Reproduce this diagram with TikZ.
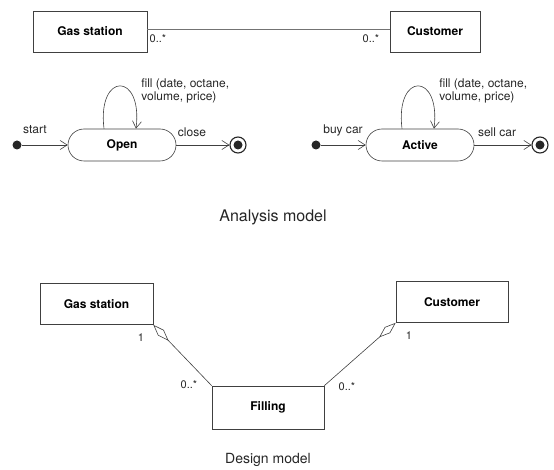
\documentclass[tikz,border=0pt]{standalone}
\usepackage{fontspec}
\setmainfont{TeX Gyre Heros}
\usetikzlibrary{arrows.meta}

\begin{document}
\begin{tikzpicture}[x=1pt,y=-1pt,line width=0.6pt,draw=black!75,
    >={Straight Barb[length=7pt,width=9pt]},
    class/.style={draw,minimum height=41pt,font=\bfseries\fontsize{12}{14}\selectfont},
    stbox/.style={draw,rounded corners=16pt,minimum width=108pt,minimum height=32pt,
      font=\bfseries\fontsize{12}{14}\selectfont},
    startdot/.style={fill=black!85,circle,inner sep=0pt,minimum size=9pt},
    enddot/.style={draw=black!85,circle,inner sep=0pt,minimum size=16pt,line width=1.1pt,
      path picture={\fill[black!85] (path picture bounding box.center) circle (4.5pt);}},
    txt/.style={font=\fontsize{12}{13}\selectfont,inner sep=1pt,text=black!85},
    mult/.style={font=\fontsize{11}{12}\selectfont,inner sep=1pt,text=black!85},
    agg/.style={{Diamond[open,length=22pt,width=8pt]}-}]
  \useasboundingbox (0,0) rectangle (554,470);

  % analysis model: classes
  \node[class,minimum width=114pt] (gas) at (90,31.5) {Gas station};
  \node[class,minimum width=90pt] (cust) at (435,31.5) {Customer};
  \draw[line width=1pt,black!55] (gas.east) ++(0,-1.5) -- ([yshift=1.5pt]cust.west);
  \node[mult] (gasm) at (158,39) {0..*};
  \node[mult] (custm) at (371,39) {0..*};

  % analysis model: gas station states
  \node[stbox] (open) at (122,145) {Open};
  \node[startdot] (start1) at (17,145) {};
  \node[enddot] (end1) at (238,145) {};
  \draw[->] (start1) -- (open);
  \draw[->] (open) -- (end1);
  \draw[->] ([xshift=-18pt]open.north) .. controls +(-7,-57) and +(7,-57) .. ([xshift=14pt]open.north);
  \node[txt] (startl) at (35,130) {start};
  \node[txt] (closel) at (192,132) {close};
  \node[txt,anchor=north west,align=left] (filll1) at (140,77) {fill (date, octane,\\volume, price)};

  % analysis model: customer states
  \node[stbox] (active) at (420,145) {Active};
  \node[startdot] (start2) at (316,145) {};
  \node[enddot] (end2) at (540,145) {};
  \draw[->] (start2) -- (active);
  \draw[->] (active) -- (end2);
  \draw[->] ([xshift=-18pt]active.north) .. controls +(-7,-57) and +(7,-57) .. ([xshift=14pt]active.north);
  \node[txt] (buyl) at (343,130) {buy car};
  \node[txt] (selll) at (497,132) {sell car};
  \node[txt,anchor=north west,align=left] (filll2) at (438,77) {fill (date, octane,\\volume, price)};

  \node[font=\fontsize{16}{19}\selectfont,text=black!85] (ana) at (273,217) {Analysis model};

  % design model
  \node[class,minimum width=113pt] (gas2) at (96.5,304) {Gas station};
  \node[class,minimum width=112pt] (cust2) at (452,302) {Customer};
  \node[class,minimum width=112pt,minimum height=43pt] (filling) at (268,407.5) {Filling};
  \draw[agg] (gas2.south east) -- (filling.north west);
  \draw[agg] (cust2.south west) -- (filling.north east);
  \node[mult] (gas2m) at (141,338) {1};
  \node[mult] (fill1m) at (189,385) {0..*};
  \node[mult] (cust2m) at (409,336) {1};
  \node[mult] (fill2m) at (347,387) {0..*};

  \node[font=\fontsize{14}{17}\selectfont,text=black!85] (des) at (268,460) {Design model};
\end{tikzpicture}
\end{document}
